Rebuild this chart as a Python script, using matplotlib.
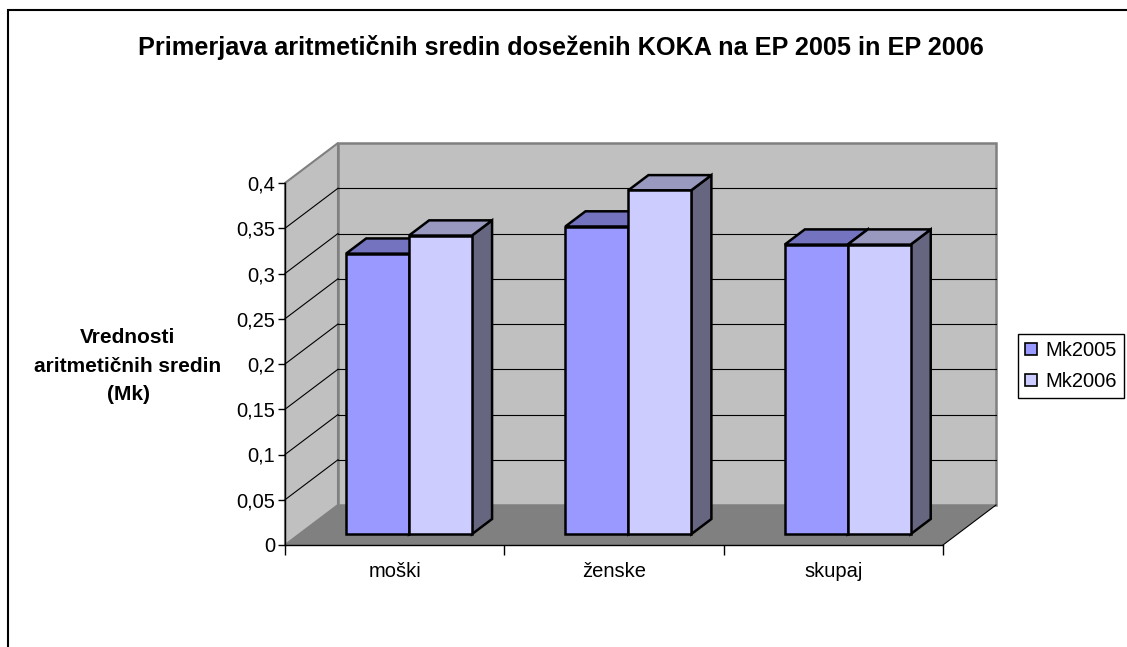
import matplotlib
matplotlib.use("Agg")
import matplotlib.pyplot as plt
import matplotlib.colors as mcolors
from matplotlib.patches import Polygon, Rectangle, Patch
from matplotlib.ticker import FuncFormatter, FixedLocator

categories = ["moški", "ženske", "skupaj"]
series = ["Mk2005", "Mk2006"]
mk2005 = [0.31, 0.34, 0.32]
mk2006 = [0.33, 0.38, 0.32]
yticks = [0, 0.05, 0.1, 0.15, 0.2, 0.25, 0.3, 0.35, 0.4]
colors = ["#9999ff", "#ccccff"]

title = "Primerjava aritmetičnih sredin doseženih KOKA na EP 2005 in EP 2006"
ylabel = "Vrednosti\naritmetičnih sredin\n(Mk)"

plt.rcParams['font.family'] = ['Liberation Sans', 'DejaVu Sans']

W, H = 1127, 647
fig = plt.figure(figsize=(W / 100, H / 100), dpi=100)
ax = fig.add_axes([285 / W, 102 / H, 658 / W, 362 / H])
nx = len(categories)
ytop = yticks[-1]
ax.set_xlim(0, nx)
ax.set_ylim(0, ytop)
ax.patch.set_visible(False)

# depth of the fake 3D box, in data units
dx = 53 / (658 / nx)
dy = 40 / (362 / ytop)


def shade(c, f):
    r, g, b = mcolors.to_rgb(c)
    return (r * f, g * f, b * f)


# walls and floor
ax.add_patch(Polygon([(0, 0), (0, ytop), (dx, ytop + dy), (dx, dy)],
                     fc="#c0c0c0", ec="#808080", lw=1.5, clip_on=False, zorder=0.5))
ax.add_patch(Polygon([(dx, dy), (nx + dx, dy), (nx + dx, ytop + dy), (dx, ytop + dy)],
                     fc="#c0c0c0", ec="#808080", lw=1.8, clip_on=False, zorder=0.5))
ax.add_patch(Polygon([(0, 0), (nx, 0), (nx + dx, dy), (dx, dy)],
                     fc="#808080", ec="none", clip_on=False, zorder=0.6))
ax.plot([nx, nx + dx], [0, dy], color="black", lw=0.8, clip_on=False, zorder=0.7)

# gridlines on the back and left walls
for v in yticks[1:-1]:
    ax.plot([dx, nx + dx], [v + dy, v + dy], color="black", lw=0.8, clip_on=False, zorder=0.7)
    ax.plot([0, dx], [v, v + dy], color="black", lw=0.8, clip_on=False, zorder=0.7)

# 3D bars
f0, f1 = 0.27, 0.65
bw = 0.287
ddx, ddy = (f1 - f0) * dx, (f1 - f0) * dy
z = 2
for i in range(nx):
    for j, vals in enumerate([mk2005, mk2006]):
        c = colors[j]
        v = vals[i]
        x0 = i + 0.5 - bw + j * bw + f0 * dx
        y0 = f0 * dy
        side = Polygon([(x0 + bw, y0), (x0 + bw + ddx, y0 + ddy),
                        (x0 + bw + ddx, y0 + v + ddy), (x0 + bw, y0 + v)],
                       fc=shade(c, 0.5), ec="black", lw=1.8, joinstyle="miter",
                       clip_on=False, zorder=z)
        top = Polygon([(x0, y0 + v), (x0 + bw, y0 + v),
                       (x0 + bw + ddx, y0 + v + ddy), (x0 + ddx, y0 + v + ddy)],
                      fc=shade(c, 0.75), ec="black", lw=1.8, joinstyle="miter",
                      clip_on=False, zorder=z + 0.1)
        front = Rectangle((x0, y0), bw, v, fc=c, ec="black", lw=1.8,
                          joinstyle="miter", clip_on=False, zorder=z + 0.2)
        for p in (side, top, front):
            ax.add_patch(p)
        z += 1

# axes
for s in ("top", "right"):
    ax.spines[s].set_visible(False)
for s in ("left", "bottom"):
    ax.spines[s].set_linewidth(1)
    ax.spines[s].set_zorder(1)
ax.set_yticks(yticks)
ax.yaxis.set_major_formatter(FuncFormatter(lambda v, p: ("%g" % v).replace(".", ",")))
ax.tick_params(axis="y", direction="out", length=5, width=1, labelsize=14.5, pad=2)
ax.set_xticks(range(nx + 1))
ax.set_xticklabels([])
ax.xaxis.set_minor_locator(FixedLocator([i + 0.5 for i in range(nx)]))
ax.set_xticklabels(categories, minor=True)
ax.tick_params(axis="x", which="major", direction="out", length=7, width=1)
ax.tick_params(axis="x", which="minor", length=0, labelsize=14.5, pad=12)

fig.text(128 / W, 1 - 366 / H, ylabel, ha="center", va="center",
         fontsize=15, fontweight="bold", linespacing=1.65)
fig.text(561 / W, 1 - 48 / H, title, ha="center", va="center",
         fontsize=18.2, fontweight="bold")

handles = [Patch(fc=c, ec="black", lw=1.2) for c in colors]
leg = fig.legend(handles, series, loc="upper left",
                 bbox_to_anchor=(1018 / W, 1 - 334 / H),
                 frameon=True, fancybox=False, edgecolor="black", framealpha=1,
                 fontsize=14.5, handlelength=0.6, handleheight=0.6,
                 handletextpad=0.4, borderaxespad=0, borderpad=0.35,
                 labelspacing=0.6)
leg.get_frame().set_linewidth(1)

# chart area border
fig.add_artist(Rectangle((8 / W, -0.1), 1.2, (1 - 10 / H) + 0.1,
                         transform=fig.transFigure, fill=False,
                         ec="black", lw=1.5))

fig.savefig("out.png", dpi=100)
